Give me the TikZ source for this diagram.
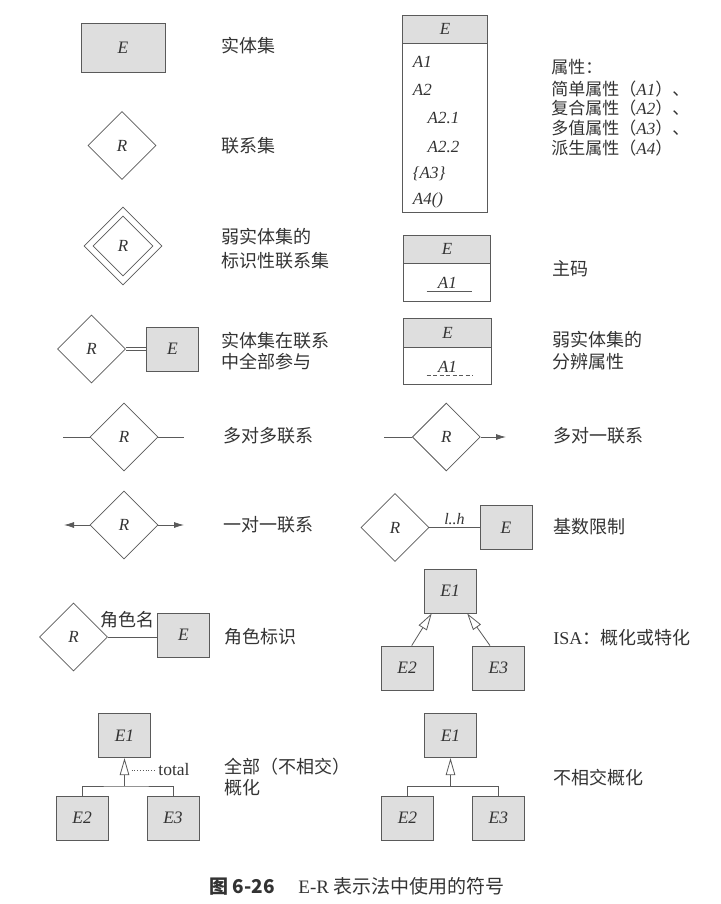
\documentclass[tikz,border=0pt]{standalone}
\usepackage{fontspec}
\setmainfont{Liberation Serif}
\newfontfamily\cjk{Noto Sans CJK SC}
\usetikzlibrary{shapes.geometric,arrows.meta,positioning}
\definecolor{inkc}{HTML}{5A5A5A}
\definecolor{txtc}{HTML}{333333}
\definecolor{entfill}{HTML}{DEDEDE}
\newcommand{\attr}[1]{{\rmfamily\itshape #1}}

\begin{document}
\begin{tikzpicture}[x=1pt, y=-1pt, line width=0.8pt, text=txtc,
    ent/.style={draw=inkc, fill=entfill, minimum width=52pt, minimum height=44pt, inner sep=0pt,
      font=\fontsize{17.5}{20}\selectfont\itshape},
    rel/.style={draw=inkc, fill=white, diamond, aspect=1, minimum size=68pt, inner sep=0pt,
      font=\fontsize{17}{20}\selectfont\itshape},
    hdr/.style={draw=inkc, fill=entfill, minimum width=87pt, minimum height=29pt, inner sep=0pt,
      outer sep=0pt, font=\fontsize{17}{20}\selectfont\itshape},
    body/.style={draw=inkc, minimum width=87pt, inner sep=0pt, outer sep=0pt, anchor=north},
    row/.style={anchor=west, inner sep=0pt, font=\fontsize{17}{20}\selectfont\itshape},
    lbl/.style={anchor=west, inner sep=0pt, font=\cjk\fontsize{18}{20}\selectfont},
    ln/.style={draw=inkc},
    arr/.style={draw=inkc, -{Latex[length=10pt,width=6pt]}},
    gen/.style={draw=inkc, -{Triangle[open,length=17pt,width=9.5pt]}}]
  \useasboundingbox (0,0) rectangle (720,904);

  % left column
  \node[ent, minimum width=84pt, minimum height=49pt] (ent) at (123,47.5) {E};
  \node[lbl] at (221,46) {实体集};

  \node[rel] (rel) at (122,145.5) {R};
  \node[lbl] at (221,146) {联系集};

  \node[rel, minimum size=78pt] (wkrel) at (123,246) {};
  \node[rel, minimum size=60pt] (wkrelin) at (wkrel) {R};
  \node[lbl] at (221,237) {弱实体集的};
  \node[lbl] at (221,260.5) {标识性联系集};

  \node[rel] (totrel) at (91.5,349) {R};
  \node[ent] (totent) at (172.5,349) {E};
  \draw[ln, double distance=2.5pt] (totrel.east) -- (totent.west);
  \node[lbl] at (221,341) {实体集在联系};
  \node[lbl] at (221,362) {中全部参与};

  \node[rel] (mmrel) at (124,437) {R};
  \coordinate (mmL) at (63,437);
  \coordinate (mmR) at (183.5,437);
  \draw[ln] (mmL) -- (mmrel.west) (mmrel.east) -- (mmR);
  \node[lbl] at (223,436) {多对多联系};

  \node[rel] (oorel) at (124,525) {R};
  \coordinate (ooL) at (64,525);
  \coordinate (ooR) at (184,525);
  \draw[arr] (oorel.west) -- (ooL);
  \draw[arr] (oorel.east) -- (ooR);
  \node[lbl] at (223,525) {一对一联系};

  \node[rel] (rolerel) at (73.5,637) {R};
  \node[ent] (roleent) at (183.5,635) {E};
  \draw[ln] (rolerel.east) -- (rolerel.east -| roleent.west);
  \node[lbl] (rolename) at (100,620) {角色名};
  \node[lbl] at (224,637) {角色标识};

  \node[ent] (totE1) at (124.5,735.7) {E1};
  \node[ent] (totE2) at (82.2,818) {E2};
  \node[ent] (totE3) at (173,818) {E3};
  \coordinate (totjn) at (124.5,786);
  \draw[ln] (totE2.north) |- (totjn) -| (totE3.north);
  \draw[gen] (totjn) -- (totE1.south);
  \node[anchor=west, inner sep=0pt, font=\fontsize{17.5}{20}\selectfont] (tottxt) at (158,770) {total};
  \coordinate (totdot) at (131.5,770);
  \draw[ln, dotted, shorten >=3pt] (totdot) -- (tottxt.west);
  \node[lbl] at (224,767) {全部（不相交）};
  \node[lbl] at (224,788) {概化};

  % right column
  \node[hdr, minimum width=84.6pt, minimum height=28.3pt] (attrE) at (445,29.2) {E};
  \node[body, minimum width=84.6pt, minimum height=169.4pt] (attrbox) at (attrE.south) {};
  \node[row] (a1) at (412.5,61.7) {A1};
  \node[row] (a2) at (412.5,90) {A2};
  \node[row] (a21) at (427.3,118.3) {A2.1};
  \node[row] (a22) at (427.3,146.7) {A2.2};
  \node[row] (a3) at (412.5,174) {\{A3\}};
  \node[row] (a4) at (412.5,200.7) {A4()};
  \begin{scope}[lbl/.append style={font=\cjk\fontsize{17}{20}\selectfont}]
  \node[lbl] at (551,66.7) {属性：};
  \node[lbl] at (551,88.7) {简单属性（\attr{A1}）、};
  \node[lbl] at (551,108.3) {复合属性（\attr{A2}）、};
  \node[lbl] at (551,128.3) {多值属性（\attr{A3}）、};
  \node[lbl] at (551,148.3) {派生属性（\attr{A4}）};
  \end{scope}

  \node[hdr, minimum height=28.3pt] (pkE) at (447,249.2) {E};
  \node[body, minimum height=37.7pt] (pkbox) at (pkE.south) {};
  \node[row, anchor=center] (pkA) at (447.3,283.3) {A1};
  \coordinate (pkuL) at (426.7,291);
  \coordinate (pkuR) at (471.7,291);
  \draw[ln] (pkuL) -- (pkuR);
  \node[lbl] at (551.7,268.3) {主码};

  \node[hdr, minimum width=88.4pt, minimum height=29.4pt] (wkE) at (447.5,333) {E};
  \node[body, minimum width=88.4pt, minimum height=36.6pt] (wkbox) at (wkE.south) {};
  \node[row, anchor=center] (wkA) at (447.5,366.7) {A1};
  \coordinate (wkuL) at (426.7,375.7);
  \coordinate (wkuR) at (473,375.7);
  \draw[ln, line width=0.7pt, dash pattern=on 4pt off 2.5pt] (wkuL) -- (wkuR);
  \node[lbl] at (551.7,340) {弱实体集的};
  \node[lbl] at (551.7,361.7) {分辨属性};

  \node[rel] (morel) at (446.3,437) {R};
  \coordinate (moL) at (384.3,437);
  \coordinate (moR) at (506,437);
  \draw[ln] (moL) -- (morel.west);
  \draw[arr] (morel.east) -- (moR);
  \node[lbl] at (553,436) {多对一联系};

  \node[rel] (carel) at (395,527.5) {R};
  \node[ent] (caent) at (506,527.5) {E};
  \draw[ln] (carel.east) -- (caent.west)
    node[midway, above, inner sep=2pt, font=\fontsize{16}{18}\selectfont\itshape] {l..h};
  \node[lbl] at (553,527) {基数限制};

  \node[ent] (isaE1) at (450.2,591) {E1};
  \node[ent] (isaE2) at (407.2,668) {E2};
  \node[ent] (isaE3) at (498.3,668) {E3};
  \draw[gen] ([xshift=4.5pt]isaE2.north) -- ([xshift=-18.5pt]isaE1.south);
  \draw[gen] ([xshift=-8.3pt]isaE3.north) -- ([xshift=17pt]isaE1.south);
  \node[lbl] at (553,637.3) {{\rmfamily ISA}：概化或特化};

  \node[ent] (djE1) at (450.5,735.7) {E1};
  \node[ent] (djE2) at (407.5,818) {E2};
  \node[ent] (djE3) at (498.3,818) {E3};
  \coordinate (djjn) at (450.5,786.5);
  \draw[ln] (djE2.north) |- (djjn) -| (djE3.north);
  \draw[gen] (djjn) -- (djE1.south);
  \node[lbl] at (553,777.3) {不相交概化};

  % caption
  \node[anchor=west, inner sep=0pt, font=\cjk\bfseries\fontsize{19}{22}\selectfont] (capnum) at (209,886.7) {图 6-26};
  \node[anchor=west, inner sep=0pt, font=\fontsize{19}{22}\selectfont] (captxt) at (298,886.7) {E-R {\cjk 表示法中使用的符号}};
\end{tikzpicture}
\end{document}
